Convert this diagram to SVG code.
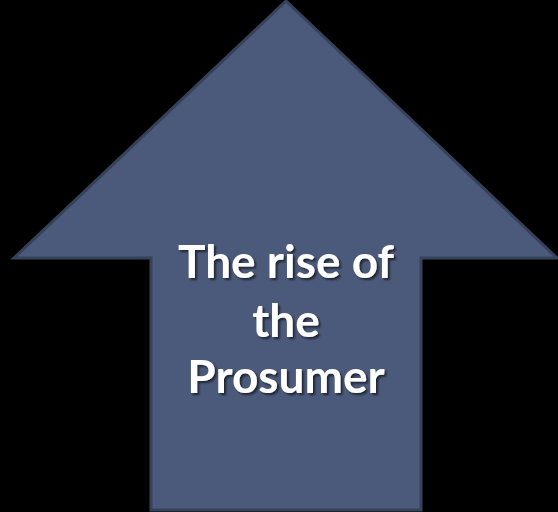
<svg xmlns="http://www.w3.org/2000/svg" width="558" height="512" viewBox="0 0 558 512">
<defs>
<style>
.arrow{fill:#4b5a7a;stroke:#36425a;stroke-width:3;stroke-linejoin:miter}
.lbl{font-family:Lato,"Open Sans","Liberation Sans",sans-serif;font-weight:bold;font-size:46px;fill:#ffffff;text-anchor:middle}
</style>
<filter id="sh" x="-10%" y="-20%" width="130%" height="150%">
<feDropShadow dx="2" dy="2" stdDeviation="1.2" flood-color="#000000" flood-opacity="0.6"/>
</filter>
</defs>
<rect width="558" height="512" fill="#000000"/>
<g id="arrow">
<polygon class="arrow" points="286,1 557,258 421,258 421,510 151,510 151,258 14,258"/>
<g filter="url(#sh)">
<text class="lbl" x="286" y="278">The rise of</text>
<text class="lbl" x="286" y="337">the</text>
<text class="lbl" x="286" y="393">Prosumer</text>
</g>
</g>
</svg>
